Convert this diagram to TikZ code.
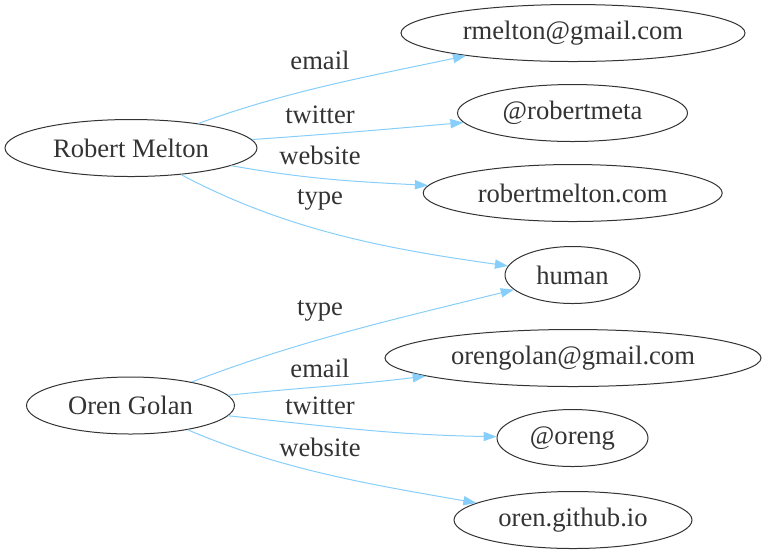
\documentclass[tikz,border=0pt]{standalone}
\usepackage{fontspec}
\setmainfont{Liberation Serif}
\usetikzlibrary{shapes.geometric,arrows.meta}
\definecolor{ink}{HTML}{333333}
\definecolor{edgeblue}{HTML}{87CEFA}
\tikzset{
  ent/.style={ellipse, draw=ink, line width=0.5pt, inner sep=0pt, text=ink,
    font=\fontsize{13.3}{16}\selectfont, minimum height=28.5pt},
  lbl/.style={inner sep=0pt, text=ink, font=\fontsize{13.3}{16}\selectfont},
  rel/.style={draw=edgeblue, line width=0.5pt,
    -{Triangle[length=6.5pt,width=4.6pt,fill=edgeblue]}}
}
\begin{document}
\begin{tikzpicture}[x=0.5pt,y=-0.5pt]
\useasboundingbox (0,0) rectangle (766,554);
% subject nodes
\node[ent, minimum width=126pt] (rm) at (131,148) {Robert Melton};
\node[ent, minimum width=104pt] (og) at (130.5,405.5) {Oren Golan};
% object nodes
\node[ent, minimum width=172pt] (e1) at (573,33) {rmelton@gmail.com};
\node[ent, minimum width=115pt] (t1) at (572.5,113) {@robertmeta};
\node[ent, minimum width=149.5pt] (w1) at (572.7,193) {robertmelton.com};
\node[ent, minimum width=67.5pt] (hu) at (572.5,275) {human};
\node[ent, minimum width=188pt] (e2) at (573,358) {orengolan@gmail.com};
\node[ent, minimum width=75.5pt] (t2) at (572.5,438) {@oreng};
\node[ent, minimum width=119pt] (w2) at (573,520) {oren.github.io};
% edges
\draw[rel] (rm) to[out=20,in=192,looseness=0.9] (e1);
\draw[rel] (rm) to[out=4,in=185] (t1);
\draw[rel] (rm) to[out=-10,in=177] (w1);
\draw[rel] (rm) to[out=-28,in=172,looseness=0.9] (hu);
\draw[rel] (og) to[out=21,in=194,looseness=0.9] (hu);
\draw[rel] (og) to[out=6,in=187] (e2);
\draw[rel] (og) to[out=-6,in=179] (t2);
\draw[rel] (og) to[out=-23,in=170,looseness=0.9] (w2);
% labels
\node[lbl] (l1) at (320,60) {email};
\node[lbl] (l2) at (320,115) {twitter};
\node[lbl] (l3) at (320,155) {website};
\node[lbl] (l4) at (320,200) {type};
\node[lbl] (l5) at (320,311) {type};
\node[lbl] (l6) at (320,368) {email};
\node[lbl] (l7) at (320,406) {twitter};
\node[lbl] (l8) at (320,447) {website};
\end{tikzpicture}
\end{document}
